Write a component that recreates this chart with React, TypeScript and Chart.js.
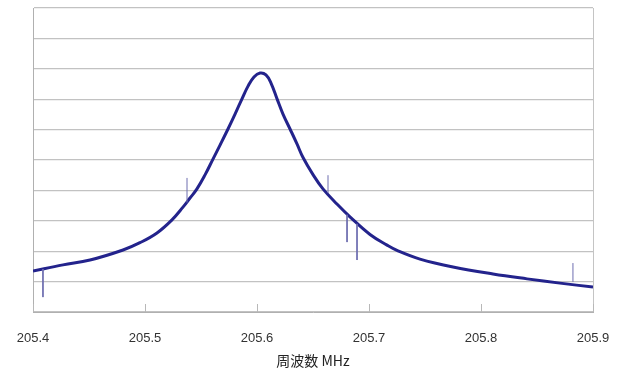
import React, { useEffect, useRef } from "react";
import { Chart, registerables } from "chart.js";

Chart.register(...registerables);

// Frequency (MHz) of the sampled points along the resonance curve
const freqs = [
  205.4, 205.4268, 205.4509, 205.4804, 205.4955, 205.5107, 205.5241, 205.5339,
  205.5402, 205.5464, 205.5536, 205.5607, 205.567, 205.5741, 205.5804, 205.5866,
  205.592, 205.5973, 205.6027, 205.608, 205.6125, 205.6179, 205.6232, 205.6295,
  205.6357, 205.6411, 205.65, 205.6589, 205.6714, 205.683, 205.7009, 205.7161,
  205.7259, 205.7455, 205.775, 205.8107, 205.8411, 205.8705, 205.9,
];
// Response amplitude (arbitrary units, gridlines every 1)
const amplitude = [
  1.35, 1.55, 1.71, 2.04, 2.28, 2.6, 3.03, 3.45,
  3.75, 4.05, 4.51, 5.03, 5.49, 6.02, 6.51, 7.01,
  7.43, 7.73, 7.86, 7.8, 7.53, 7.01, 6.51, 6.02,
  5.53, 5.08, 4.52, 4.05, 3.55, 3.13, 2.55, 2.2,
  2.01, 1.74, 1.48, 1.25, 1.09, 0.95, 0.82,
];
// Noise spikes: frequency, value on curve, spike tip
const spikeFreqs = [205.4089, 205.5375, 205.6634, 205.6804, 205.6893, 205.8821];
const spikeBase = [1.41, 3.6, 3.91, 3.2, 2.9, 0.99];
const spikeTip = [0.49, 4.41, 4.5, 2.3, 1.71, 1.61];

const xTicks = [205.4, 205.5, 205.6, 205.7, 205.8, 205.9];
const xTitle = "周波数 MHz";

export default function App() {
  const ref = useRef<HTMLCanvasElement | null>(null);
  useEffect(() => {
    document.body.style.margin = "0";
    const canvas = ref.current;
    if (!canvas) return;
    const curve = freqs.map((f, i) => ({ x: f, y: amplitude[i] }));
    const spikes: any[] = [];
    spikeFreqs.forEach((f, i) => {
      spikes.push({ x: f, y: spikeBase[i] });
      spikes.push({ x: f, y: spikeTip[i] });
      spikes.push({ x: f, y: null });
    });
    const frame = {
      id: "frame",
      beforeDatasetsDraw(chart: any) {
        const { ctx, chartArea } = chart;
        const xs = chart.scales.x;
        ctx.save();
        ctx.strokeStyle = "#c4c4c4";
        ctx.lineWidth = 1;
        ctx.beginPath();
        ctx.moveTo(chartArea.right + 0.5, chartArea.top);
        ctx.lineTo(chartArea.right + 0.5, chartArea.bottom);
        ctx.stroke();
        ctx.strokeStyle = "#b8b8b8";
        ctx.beginPath();
        xTicks.forEach((t) => {
          const px = Math.round(xs.getPixelForValue(t)) + 0.5;
          ctx.moveTo(px, chartArea.bottom);
          ctx.lineTo(px, chartArea.bottom - 8);
        });
        ctx.stroke();
        ctx.restore();
      },
    };
    const chart = new Chart(canvas, {
      type: "line",
      data: {
        datasets: [
          {
            data: spikes,
            borderColor: "#6e6eb0",
            borderWidth: 1,
            pointRadius: 0,
            spanGaps: false,
          },
          {
            data: curve,
            borderColor: "#23238c",
            borderWidth: 3,
            pointRadius: 0,
            tension: 0.4,
          },
        ],
      },
      options: {
        responsive: false,
        animation: false,
        devicePixelRatio: 1,
        layout: { padding: { top: 8, right: 28, left: 0, bottom: 0 } },
        plugins: { legend: { display: false }, tooltip: { enabled: false } },
        scales: {
          x: {
            type: "linear",
            min: 205.4,
            max: 205.9,
            afterBuildTicks: (s: any) => {
              s.ticks = xTicks.map((v) => ({ value: v }));
            },
            afterFit: (s: any) => {
              s.height = 59;
              s.paddingLeft = 0;
              s.paddingRight = 0;
            },
            grid: { display: false, drawTicks: false },
            border: { display: true, color: "#b0b0b0", width: 1 },
            ticks: {
              padding: 19,
              color: "#333",
              font: { family: "Liberation Sans, Arial, sans-serif", size: 13 },
              callback: (v: any) => Number(v).toFixed(1),
            },
            title: {
              display: true,
              text: xTitle,
              color: "#222",
              font: { family: "'Noto Sans CJK JP', sans-serif", size: 14 },
              padding: { top: 2, bottom: 2 },
            },
          },
          y: {
            min: 0,
            max: 10,
            afterFit: (s: any) => {
              s.width = 33;
            },
            ticks: { display: false, stepSize: 1 },
            grid: { color: "#c2c2c2", lineWidth: 1.3, drawTicks: false },
            border: { display: true, color: "#b0b0b0", width: 1 },
          },
        },
      },
      plugins: [frame],
    });
    return () => chart.destroy();
  }, []);
  return <canvas ref={ref} width={621} height={371} style={{ display: "block" }} />;
}
